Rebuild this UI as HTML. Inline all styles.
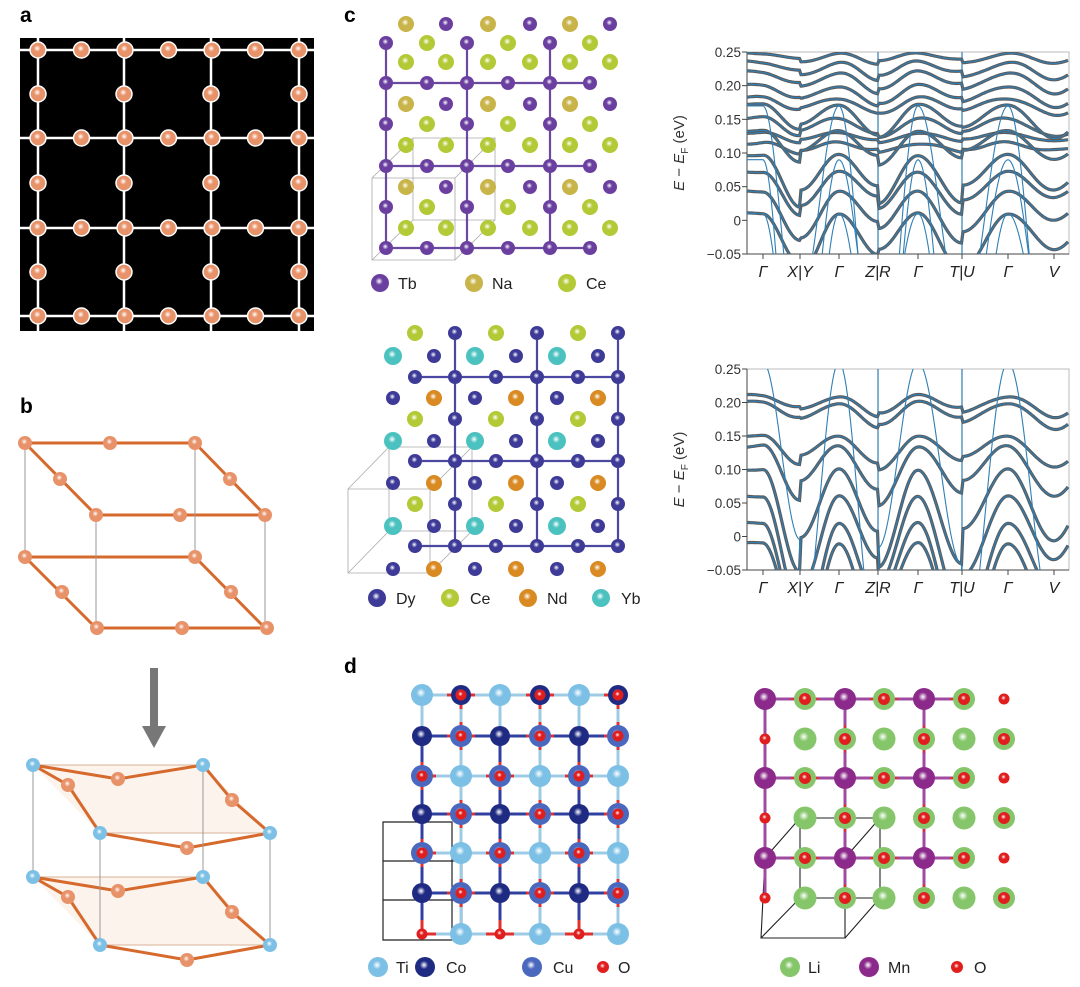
<!DOCTYPE html>
<html><head><meta charset="utf-8">
<style>
html,body{margin:0;padding:0;background:#fff;}
svg{display:block;font-family:"Liberation Sans",sans-serif;}
</style></head>
<body>
<svg id="s" width="1080" height="987" viewBox="0 0 1080 987" xmlns="http://www.w3.org/2000/svg">
<defs id="defs"></defs>
<g id="g"></g>
</svg>
<script>
const NS="http://www.w3.org/2000/svg";
const svg=document.getElementById('s'), g=document.getElementById('g'), defs=document.getElementById('defs');
function el(t,a,p){const e=document.createElementNS(NS,t);for(const k in a)e.setAttribute(k,a[k]);(p||g).appendChild(e);return e;}
function txt(x,y,s,a){const e=el('text',Object.assign({x:x,y:y},a||{}));e.textContent=s;return e;}
const cols={Tb:'#6a3fa0',Na:'#c8b448',Ce:'#b3c935',Dy:'#3d3a98',Nd:'#d98a22',Yb:'#4cc2c0',Ti:'#7cc0e6',Co:'#1f2a82',Cu:'#4a68bd',O:'#e01e1e',Li:'#86c66a',Mn:'#8b2a8b',A:'#e8926a'};
for(const k in cols){const rg=el('radialGradient',{id:'g'+k,cx:'0.45',cy:'0.4',r:'0.6'},defs);
 el('stop',{offset:'0',"stop-color":'#ffffff'},rg);el('stop',{offset:'0.35',"stop-color":cols[k]},rg);el('stop',{offset:'1',"stop-color":cols[k]},rg);}
function ball(x,y,r,k){el('circle',{cx:x,cy:y,r:r,fill:'url(#g'+k+')'});}
function line(x1,y1,x2,y2,c,w){el('line',{x1:x1,y1:y1,x2:x2,y2:y2,stroke:c,"stroke-width":w||1});}
[['a',20,22],['b',20,413],['c',344,22],['d',344,673]].forEach(l=>txt(l[1],l[2],l[0],{"font-size":21,"font-weight":"bold"}));

// ===== panel a
el('rect',{x:20,y:38,width:294,height:293,fill:'#000'});
const ax=[38,124,211,299], ay=[50,138,228,316];
ax.forEach(x=>line(x,38,x,331,'#fff',2.5)); ay.forEach(y=>line(20,y,314,y,'#fff',2.5));
ay.forEach(y=>{for(let i=0;i<7;i++){const x=38+i*43.5;el('circle',{cx:x,cy:y,r:8,fill:'url(#gA)',stroke:'#fff','stroke-width':1.5});}});
ax.forEach(x=>{[94,183,272].forEach(y=>el('circle',{cx:x,cy:y,r:8,fill:'url(#gA)',stroke:'#fff','stroke-width':1.5}));});

// ===== panel b
const OR='#d6692c';
[[443,515],[557,628]].forEach(([t,b])=>{
 line(25,t,195,t,OR,3);line(195,t,265,b,OR,3);line(265,b,96,b,OR,3);line(96,b,25,t,OR,3);
});
line(25,443,25,557,'#999',1);line(195,443,195,557,'#999',1);line(96,515,96,628,'#999',1);line(265,515,265,628,'#999',1);
[[25,443],[110,443],[195,443],[60,479],[230,479],[96,515],[180,515],[265,515],[25,557],[195,557],[62,592],[231,592],[97,628],[182,628],[267,628]].forEach(p=>ball(p[0],p[1],7,'A'));
el('rect',{x:150,y:668,width:8,height:62,fill:'#777'});
el('polygon',{points:'142,726 166,726 154,748',fill:'#777'});
[[765,833],[877,945]].forEach(([t,b],k)=>{
 el('polygon',{points:`33,${t} 203,${t} 270,${b} 100,${b}`,fill:'#f8e4d8',opacity:0.45});
 line(33,t,203,t,'#e0c0a8',1.2);line(100,b,270,b,'#e0c0a8',1.2);
 const m1=[68,t+20],m2=[118,t+14],m3=[232,t+35],m4=[187,b+15];
 const path=`M33,${t} L${m1[0]},${m1[1]} L100,${b} L${m4[0]},${m4[1]} L270,${b} L${m3[0]},${m3[1]} L203,${t} L${m2[0]},${m2[1]} Z`;
 el('path',{d:path,fill:'none',stroke:OR,'stroke-width':3});
 [m1,m2,m3,m4].forEach(p=>ball(p[0],p[1],7,'A'));
});
line(33,765,33,877,'#999',1);line(203,765,203,877,'#999',1);line(100,833,100,945,'#999',1);line(270,833,270,945,'#999',1);
[[33,765],[203,765],[100,833],[270,833],[33,877],[203,877],[100,945],[270,945]].forEach(p=>ball(p[0],p[1],7,'Ti'));

// ===== panel c top
{
 const rows=[24,43,62,83,104,124,145,166,187,207,228,248];
 el('path',{d:'M372,178 L413,138 L495,138 L495,220 L455,260 L372,260 Z M372,178 L455,178 L495,138 M455,178 L455,260 M413,138 L413,220 L372,260 M413,220 L495,220',fill:'none',stroke:'#aaa','stroke-width':0.8});
 [386,467,550].forEach(x=>line(x,43,x,248,'#6a4aa0',2.2));
 [83,166,248].forEach(y=>line(386,y,590,y,'#6a4aa0',2.2));
 rows.forEach((y,i)=>{const m=i%4;
  if(m==0){[406,446,488,530,570,610].forEach((x,j)=>ball(x,y,j%2?7:8,j%2?'Tb':'Na'));}
  if(m==1){[386,427,467,508,550,590].forEach((x,j)=>ball(x,y,j%2?8:7,j%2?'Ce':'Tb'));}
  if(m==2){[406,446,488,530,570,610].forEach(x=>ball(x,y,8,'Ce'));}
  if(m==3){[386,427,467,508,550,590].forEach(x=>ball(x,y,7,'Tb'));}
 });
 [['Tb',380,398],['Na',474,492],['Ce',567,586]].forEach(l=>{ball(l[1],283,9,l[0]);txt(l[2],289,l[0],{"font-size":16,fill:'#222'});});
}
// ===== panel c bottom
{
 el('path',{d:'M348,489 L389,447 L472,447 L472,531 L430,573 L348,573 Z M348,489 L430,489 L472,447 M430,489 L430,573 M389,447 L389,531 L348,573 M389,531 L472,531',fill:'none',stroke:'#aaa','stroke-width':0.8});
 [455,537,618].forEach(x=>line(x,333,x,546,'#4a48a0',2.2));
 [377,461,546].forEach(y=>line(415,y,618,y,'#4a48a0',2.2));
 const rows=[333,356,377,398,419,441,461,483,504,526,546,569];
 rows.forEach((y,i)=>{const m=i%4;
  if(m==0)[415,455,496,537,578,618].forEach((x,j)=>ball(x,y,j%2?7:8,j%2?'Dy':'Ce'));
  if(m==1)[393,434,475,516,557,598].forEach((x,j)=>ball(x,y,j%2?7:9,j%2?'Dy':'Yb'));
  if(m==2)[415,455,496,537,578,618].forEach(x=>ball(x,y,7,'Dy'));
  if(m==3)[393,434,475,516,557,598].forEach((x,j)=>ball(x,y,j%2?8:7,j%2?'Nd':'Dy'));
 });
 [['Dy',377,396],['Ce',450,470],['Nd',528,547],['Yb',601,621]].forEach(l=>{ball(l[1],598,9,l[0]);txt(l[2],604,l[0],{"font-size":16,fill:'#222'});});
}
// ===== band plots
function plot(top,bot,seed,set){
 const L=747,R=1069;
 el('rect',{x:L,y:top,width:R-L,height:bot-top,fill:'none',stroke:'#bbb','stroke-width':1});
 line(L,top,L,bot,'#444',1);line(L,bot,R,bot,'#444',1);
 const sc=(bot-top)/0.30;
 const Y=e=>bot-(e+0.05)*sc;
 for(let k=0;k<=6;k++){const v=0.25-k*0.05;const y=Y(v);line(L-5,y,L,y,'#444',1);
  txt(741,y+5,v===0?'0':(v<0?'\u22120.05':v.toFixed(2)),{"font-size":13.5,"text-anchor":'end',fill:'#333'});}
 const T=[763,800,839,878,918,962,1008,1054];
 const labs=['Γ','X|Y','Γ','Z|R','Γ','T|U','Γ','V'];
 T.forEach((x,i)=>{line(x,bot,x,bot+5,'#444',1);txt(x,bot+23,labs[i],{"font-size":16,"font-style":'italic',"text-anchor":'middle',fill:'#222'});});
 line(878,top,878,bot,'#2f7fb5',1.2);line(962,top,962,bot,'#2f7fb5',1.2);
 const yl=el('text',{x:0,y:0,transform:`translate(684,${(top+bot)/2}) rotate(-90)`,"font-size":15,"text-anchor":'middle',fill:'#333'});
 yl.innerHTML='<tspan font-style="italic">E</tspan> − <tspan font-style="italic">E</tspan><tspan font-size="10" dy="4">F</tspan><tspan dy="-4"> (eV)</tspan>';
 const cp=el('clipPath',{id:'c'+seed},defs);el('rect',{x:L,y:top,width:R-L,height:bot-top},cp);
 const gg=el('g',{"clip-path":`url(#c${seed})`});
 function E(x,b){let k=0;while(k<6&&x>T[k+1])k++;const t=Math.max(0,(x-T[k])/(T[k+1]-T[k]));
  const gam=(k%2==0);const c=gam?Math.cos(Math.PI*t):Math.cos(Math.PI*(1-t));
  const a=b[1]*(1+0.3*Math.sin(k*1.7+b[0]*20));
  return b[0]+a*(c-1)+b[2]*Math.sin(x/9+b[0]*30);}
 set.forEach(b=>{let d='';for(let x=L;x<=R;x+=1.5){d+=(d?'L':'M')+x.toFixed(1)+','+Y(E(x,b)).toFixed(1);}
  if(!b[3])el('path',{d:d,fill:'none',stroke:'#5c5c5c',"stroke-width":3.2},gg);
  el('path',{d:d,fill:'none',stroke:'#2f7fb5',"stroke-width":1.1},gg);});
}
const s1=[[0.01,0.035,0.001],[0.043,0.03,0.001],[0.072,0.025,0.001],[0.097,0.03,0.001],[0.115,0.006,0.002],[0.13,0.006,0.001],[0.133,0.02,0.001],[0.152,0.012,0.002],[0.172,0.02,0.001],[0.182,0.01,0.002],[0.2,0.012,0.002],[0.22,0.012,0.002],[0.235,0.01,0.002],[0.248,0.006,0.001],[0.01,0.16,0,1],[0.09,0.2,0,1],[0.17,0.2,0,1]];
const s2=[[-0.01,0.07,0.001],[0.02,0.07,0.001],[0.06,0.065,0.001],[0.1,0.06,0.001],[0.135,0.035,0.002],[0.15,0.02,0.001],[0.2,0.015,0.002],[0.21,0.012,0.002],[0.26,0.18,0,1]];
plot(52,254,1,s1);
plot(369,570,2,s2);

// ===== panel d left
{
 const X=[422,461,500,540,579,618],Yr=[695,736,776,814,853,893,934];
 el('path',{d:'M383,822 L452,822 L452,940 L383,940 Z M383,861 L462,861 M383,900 L462,900 M462,861 L462,940',fill:'none',stroke:'#222','stroke-width':1.2});
 X.forEach(x=>line(x,695,x,934,'#9dcbe6',3));Yr.forEach(y=>line(422,y,618,y,'#9dcbe6',3));
 [1,3,5].forEach(i=>line(422,Yr[i],618,Yr[i],'#3040a0',3));[0,2,4].forEach(i=>line(X[i],736,X[i],934,'#3040a0',3));
 Yr.forEach((y,i)=>X.forEach((x,j)=>{
  let big=null,o=false;
  if(i==0){big=j%2?'Co':'Ti';o=j%2==1;}
  else if(i==6){big=j%2?'Ti':null;o=j%2==0;}
  else if(i%2==1){big=j%2?'Cu':'Co';o=j%2==1;}
  else{big=j%2?'Ti':'Cu';o=j%2==0;}
  if(o){line(Math.max(422,x-14),y,Math.min(618,x+14),y,'#e03030',3);line(x,Math.max(695,y-14),x,Math.min(934,y+14),'#e03030',3);}
  if(big)ball(x,y,big=='Co'?10:11,big);
  if(o)ball(x,y,5.5,'O');
 }));
 [['Ti',378,396],['Co',425,446],['Cu',532,553],['O',603,618]].forEach(l=>{ball(l[1],967,l[0]=='O'?6:10,l[0]);txt(l[2],973,l[0],{"font-size":16,fill:'#222'});});
}
// ===== panel d right
{
 const X=[765,805,845,884,924,964,1004],Yr=[699,739,778,818,858,898];
 el('path',{d:'M765,858 L845,858 L845,938 L761,938 Z M761,938 L800,898 L880,898 L880,818 L845,858 M800,818 L880,818 M800,818 L765,858 M800,818 L800,898 M845,938 L880,898',fill:'none',stroke:'#222','stroke-width':1.1});
 [765,845,924].forEach(x=>line(x,699,x,898,'#a04aa0',3));[699,778,858].forEach(y=>line(765,y,964,y,'#a04aa0',3));
 Yr.forEach((y,i)=>X.forEach((x,j)=>{
  if(i%2==0){
   if(j==6){ball(x,y,5.5,'O');return;}
   if(j%2==0){ball(x,y,11,'Mn');}else{line(x-14,y,Math.min(964,x+14),y,'#e03030',2);ball(x,y,11,'Li');ball(x,y,6,'O');}
  }else{
   if(j==0){ball(x,y,5.5,'O');return;}
   if(j%2==0){if(j<=4)line(x,y-14,x,Math.min(898,y+14),'#e03030',2);ball(x,y,11,'Li');ball(x,y,6,'O');}else ball(x,y,11.5,'Li');
  }
 }));
 [['Li',790,808],['Mn',869,888],['O',957,974]].forEach(l=>{ball(l[1],967,l[0]=='O'?6:10,l[0]);txt(l[2],973,l[0],{"font-size":16,fill:'#222'});});
}
</script>
</body></html>
